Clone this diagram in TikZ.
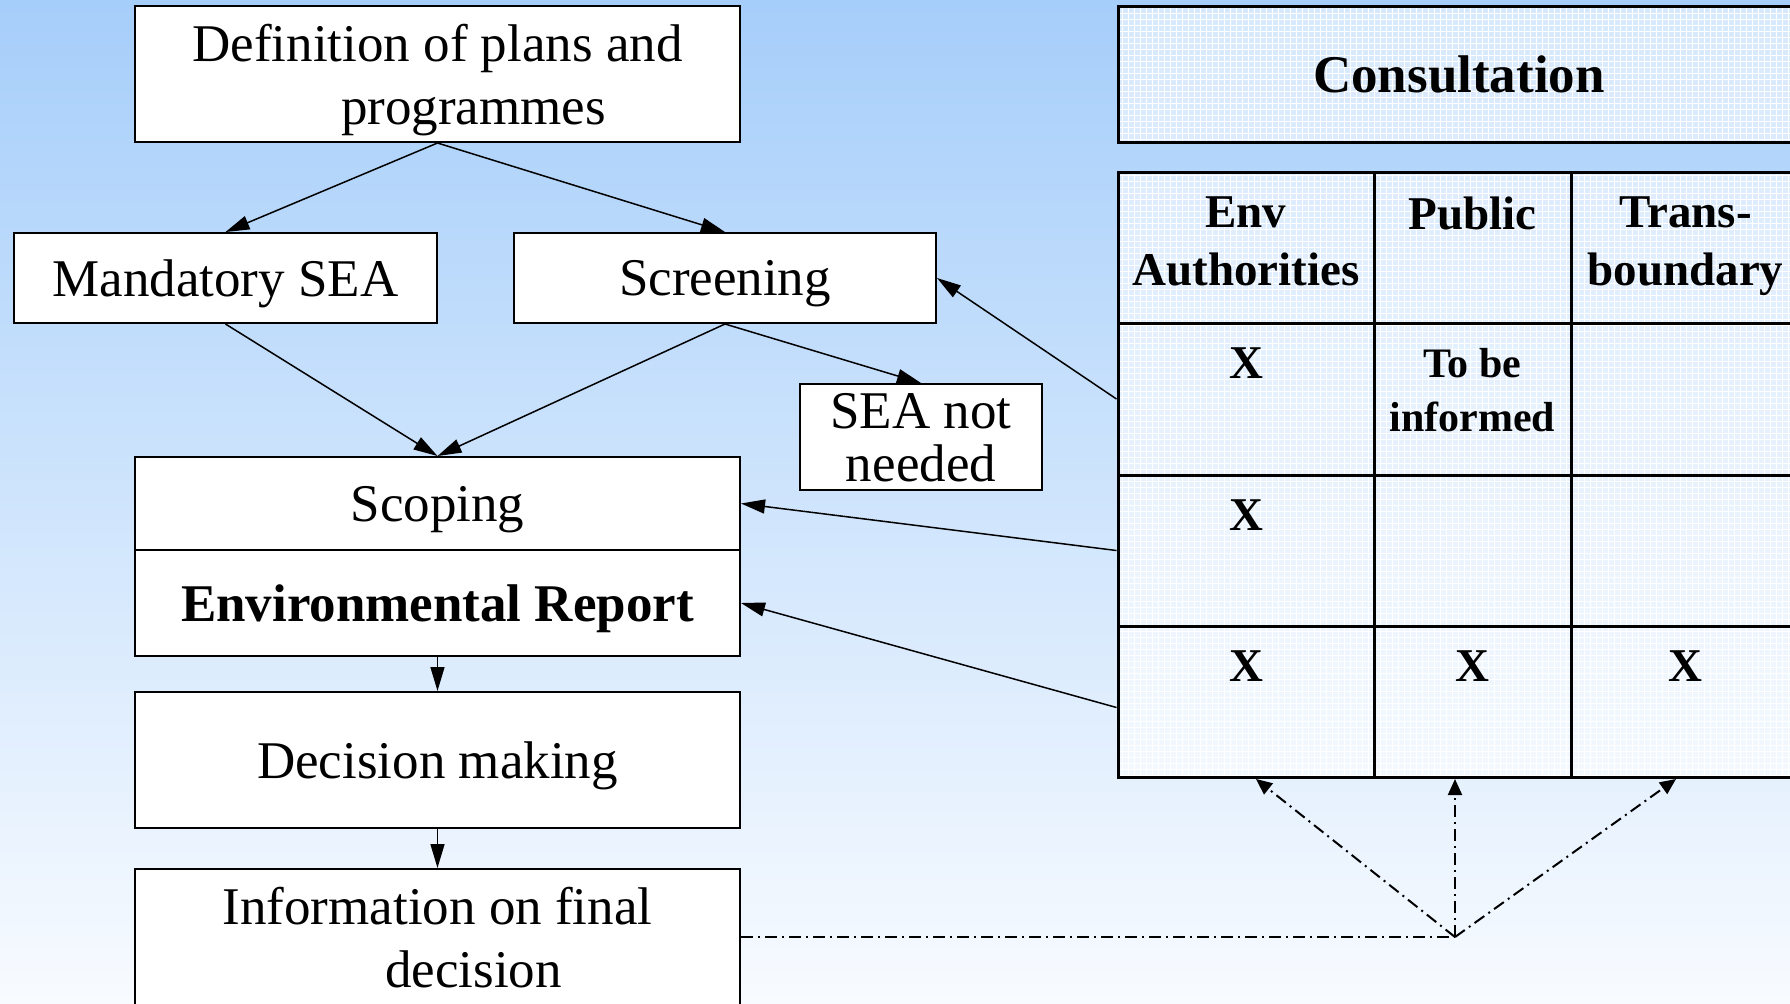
\documentclass[tikz,border=0pt]{standalone}
\usepackage{fontspec}
\setmainfont{Liberation Serif}
\usetikzlibrary{arrows.meta,patterns}
\newlength\px
\setlength\px{0.5pt}
\definecolor{skytop}{RGB}{166,206,250}
\definecolor{skybot}{RGB}{248,251,255}
\begin{document}
\begin{tikzpicture}[
      x=0.5pt, y=-0.5pt,
      box/.style={draw, fill=white, line width=1pt, inner sep=0pt, align=center,
                  text depth=-2pt, font=\fontsize{26.5}{31.5}\selectfont},
      cell/.style={draw, line width=1.5pt, inner sep=0pt, fill=white, fill opacity=0.55,
                   preaction={pattern=grid, pattern color=white}},
      head/.style={anchor=north, inner sep=0pt, yshift=-13pt,
                   align=center, font=\fontsize{23.5}{29}\selectfont\bfseries},
      flow/.style={-{Triangle[length=12pt,width=7pt]}, line width=0.75pt},
      infoline/.style={line width=1pt, dash pattern=on 6pt off 2.5pt on 1pt off 2.5pt}
    ]
      \useasboundingbox (0,0) rectangle (1790,1003);
      \clip (0,0) rectangle (1790,1003);
      \shade[top color=skytop, bottom color=skybot] (0,0) rectangle (1790,1003);

      % SEA procedure
      \node[box, minimum width=605\px, minimum height=136\px] (def) at (437.5,74)
        {Definition of plans and\\ \hspace*{1.36em}programmes};
      \node[box, minimum width=423\px, minimum height=90\px] (mand) at (225.5,278) {Mandatory SEA};
      \node[box, minimum width=422\px, minimum height=90\px] (scr) at (725,278) {Screening};
      \node[box, minimum width=242\px, minimum height=106\px, text depth=-1pt,
            font=\fontsize{26.5}{26.5}\selectfont] (skip) at (921,437) {SEA not\\needed};
      \node[box, minimum width=605\px, minimum height=93\px] (scope) at (437.5,503.5) {Scoping};
      \node[box, minimum width=605\px, minimum height=106\px] (report) at (437.5,603)
        {\bfseries Environmental Report};
      \node[box, minimum width=605\px, minimum height=136\px] (decide) at (437.5,760) {Decision making};
      \node[box, minimum width=605\px, minimum height=136\px, text depth=-3pt] (final) at (437.5,937)
        {Information on final\\ \hspace*{1.36em}decision};

      % consultation table
      \node[cell, minimum width=682\px, minimum height=136\px] (consult) at (1459,74) {};
      \node[font=\fontsize{26.5}{31.5}\selectfont\bfseries] (ctitle) at (consult) {Consultation};
      \foreach \j/\xa/\xb in {1/1118/1374, 2/1374/1571, 3/1571/1800} {
        \foreach \i/\ya/\yb in {0/172/323, 1/323/475, 2/475/626, 3/626/777} {
          \pgfmathsetmacro{\cx}{(\xa+\xb)/2}
          \pgfmathsetmacro{\cy}{(\ya+\yb)/2}
          \pgfmathsetmacro{\cw}{\xb-\xa}
          \pgfmathsetmacro{\ch}{\yb-\ya}
          \node[cell, minimum width=\cw\px, minimum height=\ch\px] (c\i\j) at (\cx,\cy) {};
        }
      }
      \node[head] (h1) at (c01.north) {Env\\Authorities};
      \node[head] (h2) at (c02.north) {Public};
      \node[head] (h3) at (c03.north) {Trans-\\boundary};
      \node[head] (x11) at (c11.north) {X};
      \node[head, font=\fontsize{21}{27}\selectfont\bfseries] (x12) at (c12.north) {To be\\informed};
      \node[head] (x21) at (c21.north) {X};
      \node[head] (x31) at (c31.north) {X};
      \node[head] (x32) at (c32.north) {X};
      \node[head] (x33) at (c33.north) {X};

      % connectors
      \draw[flow] (def.south) -- (mand.north);
      \draw[flow] (def.south) -- (scr.north);
      \draw[flow] (mand.south) -- (scope.north);
      \draw[flow] (scr.south) -- (scope.north);
      \draw[flow] (scr.south) -- (skip.north);
      \draw[flow] (report.south) -- (decide.north);
      \draw[flow] (decide.south) -- (final.north);
      \draw[flow] (c11.west) -- (scr.east);
      \draw[flow] (c21.west) -- (scope.east);
      \draw[flow] ([yshift=-3pt]c31.west) -- (report.east);

      % information to the consulted parties
      \coordinate (hub) at (1455,937);
      \coordinate (t1) at (1256,779);
      \coordinate (t2) at (1455,779);
      \coordinate (t3) at (1676,779);
      \draw[infoline] (final.east) -- (hub);
      \foreach \t in {t1,t2,t3}
        \draw[infoline, -{Triangle[length=8pt,width=7pt]}] (hub) -- (\t);
    \end{tikzpicture}
\end{document}
